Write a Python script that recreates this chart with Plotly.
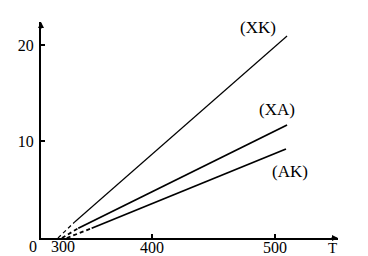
import plotly.graph_objects as go

# Data
series_names = ["(XK)", "(XA)", "(AK)"]
start_T = [323.6, 326.8, 330.7]          # where the dashed extrapolation meets the axis
solid_T0 = [337.4, 340.1, 351.0]         # start of measured (solid) part
solid_y0 = [1.69, 1.01, 1.01]
end_T = [509.8, 509.8, 508.9]
end_y = [20.93, 11.71, 9.22]
label_T = [486.0, 502.0, 512.5]
label_y = [21.8, 13.3, 6.9]

x_ticks = [400, 500]
y_ticks = [10, 20]
x_range = [309.8, 551.2]
y_range = [0, 22.38]
origin_label_T = 327.6

FONT = "Liberation Serif, Times New Roman, serif"
widths = [1.2, 1.8, 1.8]

fig = go.Figure()
for i, name in enumerate(series_names):
    fig.add_trace(go.Scatter(
        x=[start_T[i], solid_T0[i]], y=[0, solid_y0[i]], mode="lines",
        line=dict(color="black", width=widths[i], dash="4px,3px"),
        showlegend=False, hoverinfo="skip", cliponaxis=False))
    fig.add_trace(go.Scatter(
        x=[solid_T0[i], end_T[i]], y=[solid_y0[i], end_y[i]], mode="lines",
        line=dict(color="black", width=widths[i]),
        showlegend=False, hoverinfo="skip", cliponaxis=False))

annotations = []
for i, name in enumerate(series_names):
    annotations.append(dict(x=label_T[i], y=label_y[i], text=name, showarrow=False,
                            font=dict(family=FONT, size=17, color="black"),
                            xanchor="center", yanchor="middle"))
# origin / extra axis labels
annotations.append(dict(x=x_range[0], y=0, text="0", showarrow=False,
                        font=dict(family=FONT, size=16, color="black"),
                        xanchor="center", yanchor="middle", xshift=-8, yshift=-8))
annotations.append(dict(x=origin_label_T, y=0, text="300", showarrow=False,
                        font=dict(family=FONT, size=16, color="black"),
                        xanchor="center", yanchor="middle", yshift=-8))
annotations.append(dict(x=x_range[1], y=0, text="T", showarrow=False,
                        font=dict(family=FONT, size=15, color="black"),
                        xanchor="center", yanchor="middle", xshift=-6, yshift=-10))
# axis arrowheads
annotations.append(dict(x=x_range[1], y=0, ax=-8, ay=0, text="", showarrow=True,
                        arrowhead=2, arrowsize=0.8, arrowwidth=1.5, arrowcolor="black",
                        xref="x", yref="y"))
annotations.append(dict(x=x_range[0], y=y_range[1], ax=0, ay=8, text="", showarrow=True,
                        arrowhead=2, arrowsize=0.8, arrowwidth=1.5, arrowcolor="black",
                        xref="x", yref="y"))

fig.update_layout(
    width=368, height=256,
    margin=dict(l=41, r=30, t=22, b=18),
    paper_bgcolor="white", plot_bgcolor="white",
    showlegend=False,
    annotations=annotations,
    xaxis=dict(range=x_range, tickvals=x_ticks, ticktext=[str(v) for v in x_ticks],
               ticks="inside", ticklen=4, tickwidth=1.5, tickcolor="black",
               showline=True, linecolor="black", linewidth=2,
               showgrid=False, zeroline=False, automargin=False,
               ticklabelstandoff=-6,
               tickfont=dict(family=FONT, size=16, color="black")),
    yaxis=dict(range=y_range, tickvals=y_ticks, ticktext=[str(v) for v in y_ticks],
               ticks="inside", ticklen=4, tickwidth=1.5, tickcolor="black",
               showline=True, linecolor="black", linewidth=2,
               showgrid=False, zeroline=False, ticklabelstandoff=2, automargin=False,
               tickfont=dict(family=FONT, size=16, color="black")),
)

fig.write_html("out.html")
